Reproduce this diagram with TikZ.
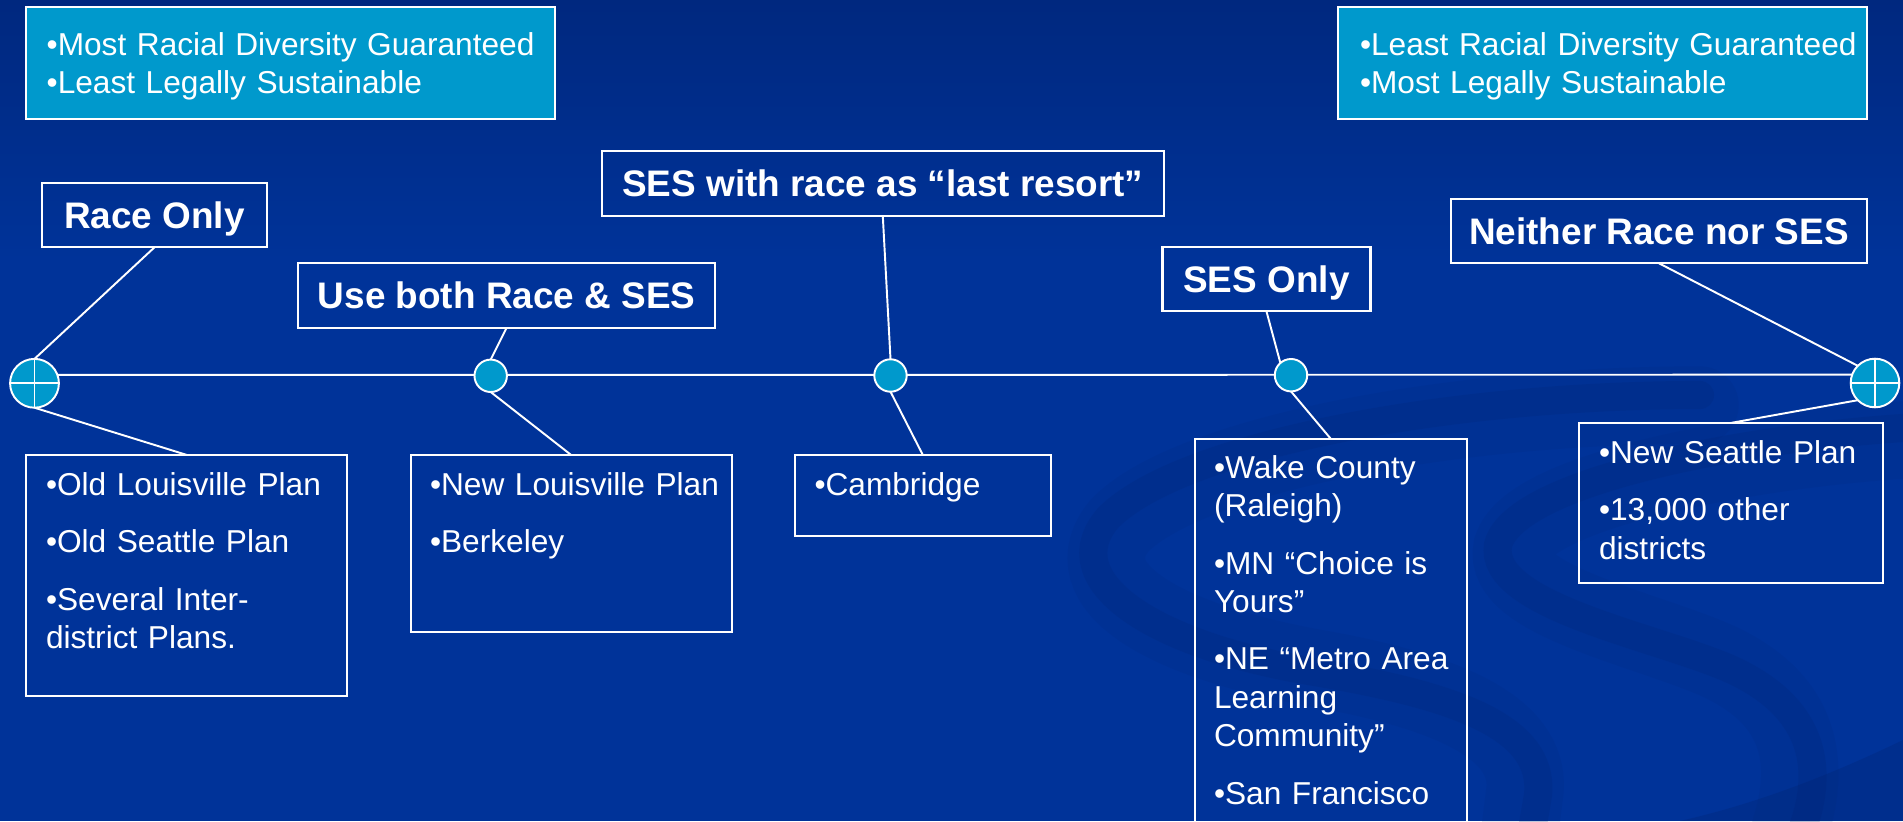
\documentclass[tikz,border=0pt]{standalone}
\usepackage{fontspec}
\setmainfont{Liberation Sans}
\definecolor{deckblue}{HTML}{003399}
\definecolor{deckdark}{HTML}{00287F}
\definecolor{swirlblue}{HTML}{00236F}
\definecolor{panelcyan}{HTML}{0099CC}
\begin{document}
\begin{tikzpicture}[x=0.01cm, y=-0.01cm,
  rule/.style={draw=white, line width=0.55pt},
  frame/.style={draw=white, line width=0.6pt, inner sep=0pt, outer sep=0pt},
  headbox/.style={frame, text=white, font=\fontsize{10.5}{12.6}\selectfont\bfseries,
    text height=9.5pt, text depth=2pt},
  bodytext/.style={text=white, inner sep=0pt, outer sep=0pt, align=left,
    text width=7cm, font=\fontsize{9.0}{10.9}\selectfont, anchor=base west},
  hub/.style={circle, draw=white, fill=panelcyan, line width=0.55pt,
    inner sep=0pt, outer sep=0pt},
  swirlsoft/.style={draw=swirlblue, draw opacity=0.10, line width=22pt, line cap=round},
  swirlcore/.style={draw=swirlblue, draw opacity=0.17, line width=8pt, line cap=round}]

% slide background
\clip (0,0) rectangle (1903,821);
\fill[deckblue] (0,0) rectangle (1903,821);
\shade[top color=deckdark, bottom color=deckblue] (0,0) rectangle (1903,260);

% decorative swirl, lower right
\path[swirlsoft] (1700,405) .. controls (1450,405) and (1190,455) .. (1120,525)
  .. controls (1070,585) and (1160,640) .. (1315,668)
  .. controls (1440,690) and (1530,725) .. (1525,790) -- (1520,830);
\path[swirlcore] (1700,395) .. controls (1450,395) and (1180,445) .. (1108,518)
  .. controls (1055,580) and (1150,645) .. (1315,672)
  .. controls (1450,695) and (1545,725) .. (1538,795) -- (1532,830);
\path[swirlsoft] (1903,440) .. controls (1750,450) and (1530,490) .. (1512,548)
  .. controls (1500,600) and (1650,630) .. (1720,662)
  .. controls (1800,700) and (1812,760) .. (1790,830);
\path[swirlcore] (1903,428) .. controls (1750,438) and (1515,480) .. (1498,545)
  .. controls (1488,605) and (1650,635) .. (1728,668)
  .. controls (1812,705) and (1826,765) .. (1802,830);
\fill[swirlblue, fill opacity=0.28] (1903,740) .. controls (1820,780) and (1750,805) .. (1680,821)
  -- (1903,821) -- cycle;

% summary panels
\node[frame, fill=panelcyan, minimum width=5.29cm, minimum height=1.12cm] (mostbox) at (290.5,63) {};
\node[bodytext] (mosttext) at (46.7,55)
  {\baselineskip=11.2pt •Most Racial Diversity Guaranteed\\•Least Legally Sustainable};
\node[frame, fill=panelcyan, minimum width=5.285cm, minimum height=1.12cm] (leastbox) at (1602.75,63) {};
\node[bodytext] (leasttext) at (1360,55)
  {\baselineskip=11.2pt •Least Racial Diversity Guaranteed\\•Most Legally Sustainable};

% category headings
\node[headbox, minimum width=2.25cm, minimum height=0.646cm] (raceonly) at (154.5,215) {Race Only};
\node[headbox, minimum width=4.167cm, minimum height=0.644cm] (useboth) at (506.65,295.5) {Use both Race \& SES};
\node[headbox, minimum width=5.616cm, minimum height=0.65cm] (lastresort) at (882.8,183.5) {SES with race as “last resort”};
\node[headbox, minimum width=2.079cm, minimum height=0.64cm] (sesonly) at (1266.45,279.3) {SES Only};
\node[headbox, minimum width=4.16cm, minimum height=0.64cm] (neither) at (1659,231.3) {Neither Race nor SES};

% example boxes
\node[frame, minimum width=3.205cm, minimum height=2.407cm] (oldbox) at (186.75,575.35) {};
\node[bodytext] (oldtext) at (46,495)
  {•Old Louisville Plan\\[5.45pt]•Old Seattle Plan\\[5.45pt]•Several Inter-\\district Plans.};
\node[frame, minimum width=3.208cm, minimum height=1.767cm] (newbox) at (571.1,543.35) {};
\node[bodytext] (newtext) at (430,495)
  {•New Louisville Plan\\[5.45pt]•Berkeley};
\node[frame, minimum width=2.56cm, minimum height=0.804cm] (cambox) at (923,495.5) {};
\node[bodytext] (camtext) at (814.5,495.5) {•Cambridge};
\node[frame, minimum width=2.718cm, minimum height=4.207cm] (wakebox) at (1331.1,649.65) {};
\node[bodytext] (waketext) at (1214,478.3)
  {•Wake County\\(Raleigh)\\[5.45pt]•MN “Choice is\\Yours”\\[5.45pt]•NE “Metro Area\\Learning\\Community”\\[5.45pt]•San Francisco};
\node[frame, minimum width=3.039cm, minimum height=1.603cm] (seabox) at (1730.75,503.15) {};
\node[bodytext] (seatext) at (1599,463.3)
  {•New Seattle Plan\\[5.45pt]•13,000 other\\districts};

% timeline ends and axis
\node[hub, minimum size=0.488cm] (endL) at (34.5,383.3) {};
\node[hub, minimum size=0.486cm] (endR) at (1875,383) {};
\draw[rule] (endL.north) -- (endL.south) (endL.west) -- (endL.east);
\draw[rule] (endR.north) -- (endR.south) (endR.west) -- (endR.east);
\draw[rule] (endL.20) -- (endR.160);

% intermediate markers
\node[hub, minimum size=0.324cm] (hubB) at (490.7,375.8) {};
\node[hub, minimum size=0.324cm] (hubC) at (890.5,375.5) {};
\node[hub, minimum size=0.324cm] (hubD) at (1291,375.2) {};

% connectors
\draw[rule] (raceonly.south) -- (endL.north);
\draw[rule] (endL.south) -- (oldbox.north);
\draw[rule] (useboth.south) -- (hubB.north);
\draw[rule] (hubB.south) -- (newbox.north);
\draw[rule] (lastresort.south) -- (hubC.north);
\draw[rule] (hubC.south) -- (cambox.north);
\draw[rule] (sesonly.south) -- (hubD.131);
\draw[rule] (hubD.south) -- (wakebox.north);
\draw[rule] (neither.south) -- (endR.135);
\draw[rule] (endR.225) -- (seabox.north);
\end{tikzpicture}
\end{document}
